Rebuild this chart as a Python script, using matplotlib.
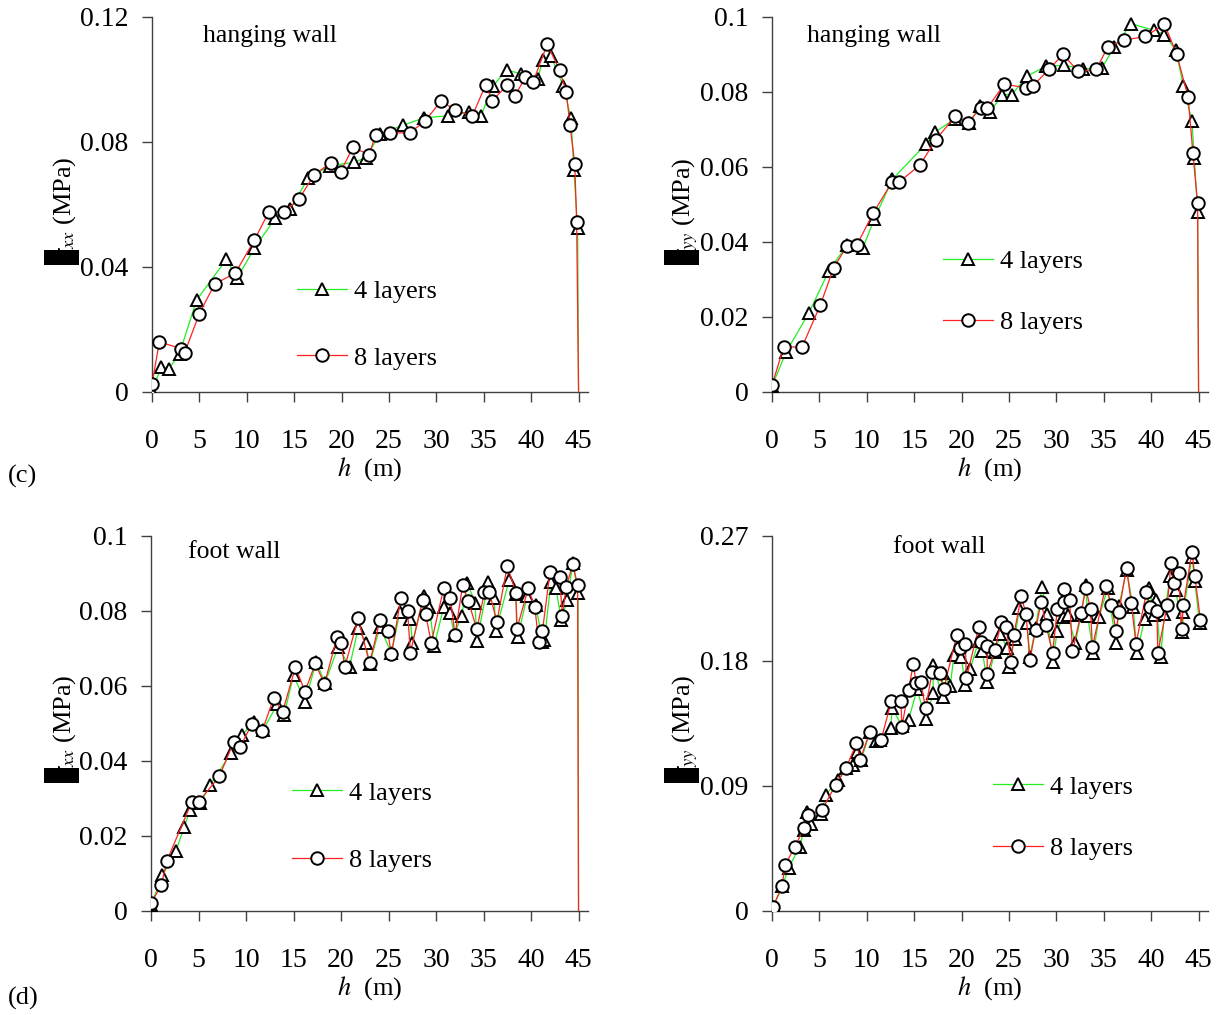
import matplotlib
matplotlib.use("Agg")
import matplotlib.pyplot as plt
from matplotlib.patches import Rectangle

plt.rcParams['font.family'] = ['Liberation Serif', 'DejaVu Serif']
plt.rcParams['mathtext.fontset'] = 'stix'

# (c) hanging wall, sigma_xx
c_h4 = [0, 0.95, 1.8, 2.9, 4.7, 7.85, 9.0, 10.8, 13.0, 14.6, 16.5, 18.8, 21.3, 22.6, 24.0, 26.5,
        28.7, 31.2, 33.4, 34.7, 36.0, 37.4, 38.9, 40.7, 41.2, 42.1, 43.4, 44.2, 44.5, 44.9, 45.0]
c_s4 = [0.000, 0.008, 0.0075, 0.0123, 0.0294, 0.0424, 0.0365, 0.046, 0.0556, 0.0585, 0.0686, 0.0724,
        0.0735, 0.075, 0.0825, 0.0854, 0.0877, 0.0884, 0.0896, 0.0884, 0.098, 0.1031, 0.1018, 0.1001,
        0.1063, 0.1074, 0.0978, 0.0876, 0.0711, 0.0524, 0.0]
c_h8 = [0, 0.77, 3.06, 3.45, 5.0, 6.6, 8.8, 10.8, 12.3, 13.9, 15.5, 17.1, 18.9, 19.9, 21.2, 22.9,
        23.6, 25.1, 27.2, 28.8, 30.5, 32.0, 33.8, 35.2, 35.9, 37.5, 38.3, 39.4, 40.2, 41.7, 43.0,
        43.7, 44.1, 44.6, 44.8, 45.0]
c_s8 = [0.0025, 0.016, 0.0139, 0.0126, 0.0251, 0.0345, 0.0381, 0.0486, 0.0575, 0.0575, 0.0617,
        0.0695, 0.0734, 0.0705, 0.0783, 0.0759, 0.0823, 0.0828, 0.083, 0.0866, 0.0932, 0.0901,
        0.0884, 0.0983, 0.0932, 0.0983, 0.0948, 0.1008, 0.0992, 0.1113, 0.1029, 0.096, 0.0853,
        0.0729, 0.0545, 0.0]

# hanging wall, sigma_yy
e_h4 = [0, 1.5, 3.87, 5.98, 7.9, 9.6, 10.8, 12.7, 16.2, 17.2, 19.3, 20.8, 21.9, 23.0, 24.3, 25.3,
        26.9, 28.9, 30.8, 32.8, 34.8, 36.1, 37.9, 40.3, 41.4, 42.6, 43.4, 44.3, 44.55, 44.9, 45.0]
e_s4 = [0.0016, 0.0107, 0.021, 0.0322, 0.0392, 0.0385, 0.0462, 0.0567, 0.066, 0.0693, 0.0728,
        0.0716, 0.0762, 0.0746, 0.0793, 0.0793, 0.0842, 0.0869, 0.0871, 0.0862, 0.0864, 0.092,
        0.0982, 0.0964, 0.0953, 0.0911, 0.0817, 0.0722, 0.0624, 0.048, 0.0]
e_h8 = [0, 1.23, 3.17, 5.1, 6.5, 7.9, 8.97, 10.7, 12.67, 13.4, 15.6, 17.3, 19.3, 20.7, 22.0, 22.7,
        24.5, 26.8, 27.5, 29.2, 30.7, 32.3, 34.2, 35.4, 37.1, 39.4, 41.4, 42.7, 43.9, 44.4, 44.9, 45.0]
e_s8 = [0.0018, 0.012, 0.012, 0.0232, 0.0331, 0.0389, 0.0393, 0.0478, 0.056, 0.056, 0.0605,
        0.0673, 0.0735, 0.0718, 0.0758, 0.0756, 0.0821, 0.0811, 0.0815, 0.086, 0.09, 0.0855,
        0.086, 0.0919, 0.0938, 0.0948, 0.0981, 0.09, 0.0786, 0.0638, 0.0503, 0.0]

# (d) foot wall, sigma_xx
d_h4 = [0, 1.2, 2.6, 3.5, 4.1, 5.2, 6.2, 8.4, 9.6, 10.8, 11.8, 13.3, 14.0, 15.0, 16.2, 17.4, 18.3,
        19.7, 20.9, 21.8, 22.6, 23.0, 24.1, 25.3, 26.2, 27.3, 27.5, 28.7, 29.3, 29.8, 30.8, 31.5,
        31.9, 32.7, 33.3, 34.1, 34.3, 35.5, 36.1, 36.3, 37.7, 38.4, 38.6, 39.6, 40.5, 41.2, 41.4,
        42.1, 42.6, 43.2, 43.8, 44.4, 44.95, 45.0]
d_s4 = [0.0015, 0.0095, 0.0159, 0.0224, 0.0269, 0.0288, 0.0335, 0.042, 0.0469, 0.0504, 0.0482,
        0.0552, 0.0522, 0.0629, 0.0558, 0.0665, 0.0607, 0.0705, 0.0651, 0.0754, 0.0714, 0.0658,
        0.0758, 0.0687, 0.0798, 0.0778, 0.0714, 0.084, 0.081, 0.0706, 0.081, 0.0794, 0.0736,
        0.0787, 0.0875, 0.0822, 0.072, 0.0876, 0.0834, 0.0747, 0.0883, 0.0845, 0.0731, 0.084,
        0.0816, 0.0718, 0.0722, 0.0878, 0.0862, 0.0776, 0.0829, 0.0927, 0.0849, 0.0]
d_h8 = [0, 1.1, 1.65, 4.3, 5.0, 7.2, 8.7, 9.4, 10.6, 11.7, 12.9, 13.85, 15.2, 16.2, 17.3, 18.25,
        19.6, 20.0, 20.4, 21.8, 23.0, 24.1, 24.9, 25.3, 26.3, 27.0, 27.3, 28.6, 28.9, 29.5, 30.8,
        31.5, 32.0, 32.8, 33.4, 34.3, 35.1, 35.6, 36.4, 37.5, 38.4, 38.5, 39.7, 40.4, 40.8, 41.2,
        42.0, 43.0, 43.3, 43.7, 44.4, 44.9, 45.0]
d_s8 = [0.002, 0.007, 0.0133, 0.0291, 0.0291, 0.0359, 0.0451, 0.0438, 0.0498, 0.048, 0.0567,
        0.0531, 0.065, 0.0585, 0.066, 0.0605, 0.0731, 0.0715, 0.0651, 0.078, 0.066, 0.0776,
        0.0746, 0.0684, 0.0835, 0.0801, 0.0689, 0.0829, 0.0791, 0.0715, 0.086, 0.0835, 0.0736,
        0.0869, 0.0826, 0.0751, 0.0851, 0.0851, 0.0771, 0.092, 0.0849, 0.0751, 0.086, 0.081,
        0.0718, 0.0746, 0.0905, 0.089, 0.0787, 0.0865, 0.0924, 0.0869, 0.0]

# foot wall, sigma_yy
f_h4 = [0.1, 1.1, 1.75, 2.9, 3.4, 3.7, 4.1, 5.2, 5.7, 7.0, 7.8, 8.5, 9.0, 9.4, 10.3, 11.0, 11.4,
        12.5, 12.7, 13.7, 14.4, 15.3, 16.2, 17.0, 17.0, 18.0, 18.0, 18.8, 19.2, 19.95, 20.4, 20.9,
        21.8, 22.2, 22.7, 23.5, 24.1, 24.8, 25.0, 25.6, 26.1, 26.9, 27.2, 27.8, 28.5, 29.0, 29.6,
        30.1, 30.7, 31.2, 32.0, 32.6, 33.1, 33.3, 33.9, 34.5, 35.4, 36.3, 36.6, 37.4, 38.1, 38.5,
        39.3, 39.8, 40.3, 40.5, 41.0, 41.4, 42.0, 42.6, 43.3, 43.4, 44.3, 44.6, 45.1]
f_s4 = [0.0029, 0.0178, 0.031, 0.046, 0.0586, 0.0713, 0.0629, 0.0701, 0.0838, 0.0946, 0.1026,
        0.105, 0.1146, 0.1086, 0.1285, 0.1225, 0.123, 0.1314, 0.1458, 0.1333, 0.1374, 0.1595,
        0.1381, 0.1566, 0.177, 0.1542, 0.171, 0.1621, 0.1842, 0.183, 0.1626, 0.1739, 0.1946,
        0.1871, 0.1645, 0.1866, 0.1991, 0.189, 0.1758, 0.1958, 0.2179, 0.2075, 0.183, 0.2035,
        0.2335, 0.2138, 0.1794, 0.2016, 0.2119, 0.2131, 0.1927, 0.2131, 0.2347, 0.2124, 0.1854,
        0.2114, 0.2323, 0.1927, 0.2195, 0.2455, 0.2186, 0.1859, 0.21, 0.2328, 0.2131, 0.2239,
        0.183, 0.2136, 0.2412, 0.2311, 0.2011, 0.2155, 0.2551, 0.2376, 0.207]
f_h8 = [0.1, 1.05, 1.4, 2.4, 3.4, 3.8, 5.3, 6.7, 7.8, 8.9, 9.3, 10.3, 11.5, 12.6, 13.6, 13.7, 14.4,
        14.9, 15.2, 15.7, 16.2, 16.9, 17.7, 18.1, 19.5, 19.8, 20.4, 20.5, 21.8, 22.1, 22.7, 22.7,
        23.5, 24.2, 24.7, 25.2, 25.5, 26.3, 26.8, 27.2, 27.8, 28.4, 28.9, 29.6, 30.1, 30.8, 30.8,
        31.4, 31.7, 32.6, 33.1, 33.6, 33.8, 35.2, 35.8, 36.3, 36.6, 37.4, 37.9, 38.4, 39.5, 39.9,
        40.6, 40.7, 41.7, 42.1, 42.4, 42.9, 43.2, 43.4, 44.3, 44.6, 45.2]
f_s8 = [0.0029, 0.0178, 0.0334, 0.046, 0.06, 0.0689, 0.073, 0.0906, 0.1026, 0.1206, 0.109, 0.1285,
        0.123, 0.1513, 0.1513, 0.1326, 0.159, 0.1778, 0.1643, 0.1645, 0.1458, 0.1722, 0.171,
        0.1595, 0.1986, 0.189, 0.1922, 0.1674, 0.2042, 0.1939, 0.191, 0.1705, 0.1879, 0.2083,
        0.2042, 0.1794, 0.1986, 0.2267, 0.2136, 0.1806, 0.2023, 0.2227, 0.2059, 0.1859, 0.2171,
        0.2318, 0.2227, 0.2239, 0.1871, 0.2143, 0.2323, 0.2174, 0.1898, 0.234, 0.2203, 0.2015,
        0.2155, 0.2472, 0.2215, 0.1922, 0.2294, 0.2186, 0.2162, 0.1859, 0.2203, 0.2508, 0.2364,
        0.2431, 0.2027, 0.2203, 0.2587, 0.2414, 0.2095]

x_ticks = [0, 5, 10, 15, 20, 25, 30, 35, 40, 45]
panels = [
    # data, axes rect, y ticks, y tick labels, title, title pos, legend pos, legend spacing, drop line
    (c_h4, c_s4, c_h8, c_s8, [0.1246, 0.6138, 0.3574, 0.3695], [0, 0.04, 0.08, 0.12],
     ['0', '0.04', '0.08', '0.12'], 'hanging wall', (0.117, 0.949), (0.333, 0.179), 1.62, True),
    (e_h4, e_s4, e_h8, e_s8, [0.6328, 0.6138, 0.3574, 0.3695], [0, 0.02, 0.04, 0.06, 0.08, 0.1],
     ['0', '0.02', '0.04', '0.06', '0.08', '0.1'], 'hanging wall', (0.080, 0.949), (0.392, 0.267), 1.42, True),
    (d_h4, d_s4, d_h8, d_s8, [0.1238, 0.1025, 0.3582, 0.3695], [0, 0.02, 0.04, 0.06, 0.08, 0.1],
     ['0', '0.02', '0.04', '0.06', '0.08', '0.1'], 'foot wall', (0.085, 0.957), (0.323, 0.225), 1.66, True),
    (f_h4, f_s4, f_h8, f_s8, [0.6328, 0.1025, 0.3574, 0.3695], [0, 0.09, 0.18, 0.27],
     ['0', '0.09', '0.18', '0.27'], 'foot wall', (0.2775, 0.971), (0.507, 0.249), 1.44, False),
]

fig = plt.figure(figsize=(12.2, 10.15), dpi=100)
FS = 19

for h4, s4, h8, s8, rect, yt, ytl, title, tpos, lpos, lsp, drop in panels:
    ax = fig.add_axes(rect)
    n4 = len(h4) - 1 if drop else len(h4)
    n8 = len(h8) - 1 if drop else len(h8)
    ax.plot(h4, s4, color='#22ee22', lw=0.9, marker='^', ms=9, mfc='white', mec='black',
            mew=1.4, markevery=slice(0, n4), label='4 layers')
    ax.plot(h8, s8, color='#ff2222', lw=0.9, marker='o', ms=9, mfc='white', mec='black',
            mew=1.4, markevery=slice(0, n8), label='8 layers')
    ax.set_xlim(0, 46)
    ax.set_ylim(0, yt[-1])
    ax.set_xticks(x_ticks)
    ax.set_yticks(yt)
    ax.set_yticklabels(ytl)
    for s in ['top', 'right']:
        ax.spines[s].set_visible(False)
    for s in ['left', 'bottom']:
        ax.spines[s].set_color('#404040')
        ax.spines[s].set_linewidth(1.0)
        ax.spines[s].set_zorder(0)
    ax.tick_params(axis='x', direction='out', length=7, width=1, color='#404040', labelsize=20, pad=19.5)
    ax.tick_params(axis='y', direction='out', length=7, width=1, color='#404040', labelsize=20, pad=10)
    ax.set_xlabel(r'$h$  (m)', fontsize=FS, labelpad=1)
    ax.text(tpos[0], tpos[1], title, transform=ax.transAxes, fontsize=18.5, ha='left', va='center')
    ax.legend(loc='center left', bbox_to_anchor=lpos, frameon=False, fontsize=FS,
              borderpad=0, borderaxespad=0, handlelength=1.9, handletextpad=0.25,
              labelspacing=lsp)
    ax.patch.set_alpha(0)

W, H = 1220, 1015
ylab = [(65, 262, r'$\sigma_{xx}$ (MPa)', 44, 250), (685, 263, r'$\sigma_{yy}$ (MPa)', 664, 250),
        (65, 780, r'$\sigma_{xx}$ (MPa)', 44, 768), (685, 780, r'$\sigma_{yy}$ (MPa)', 664, 768)]
for x, y, s, bx, by in ylab:
    fig.text(x / W, 1 - y / H, s, rotation=90, ha='center', va='bottom', fontsize=FS)
    fig.patches.append(Rectangle((bx / W, 1 - (by + 15) / H), 35 / W, 15 / H, transform=fig.transFigure,
                                 facecolor='black', edgecolor='none', zorder=10))

fig.text(8 / W, 1 - 476 / H, '(c)', fontsize=FS, va='center', ha='left')
fig.text(8 / W, 1 - 998 / H, '(d)', fontsize=FS, va='center', ha='left')

fig.savefig('out.png', dpi=100)
